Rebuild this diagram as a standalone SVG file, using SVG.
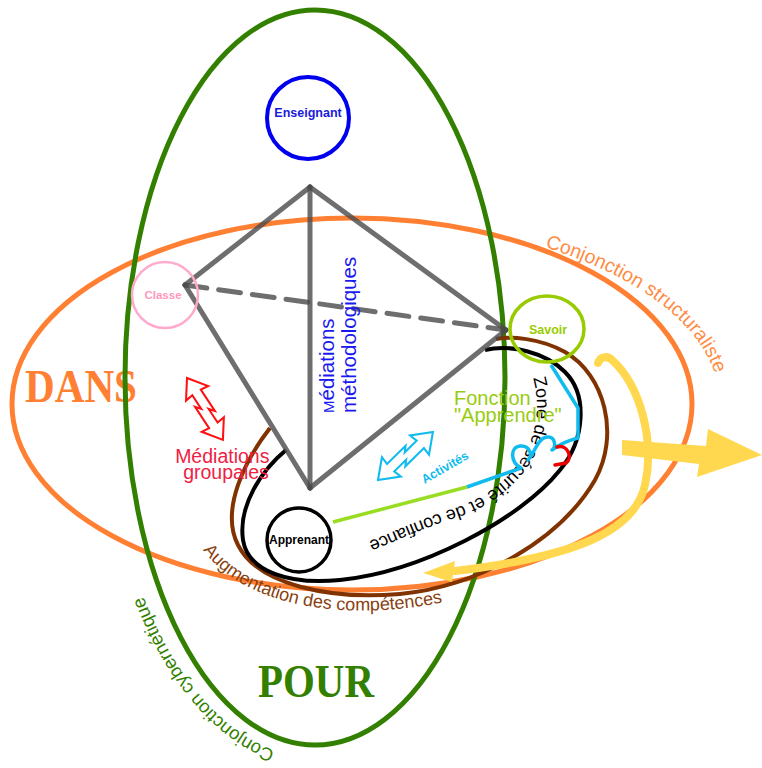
<svg xmlns="http://www.w3.org/2000/svg" width="762" height="768" viewBox="0 0 762 768">
  <defs>
    <style>
      .sans { font-family: "Liberation Sans", Arial, sans-serif; }
      .serif { font-family: "Liberation Serif", "Times New Roman", serif; font-weight: bold; }
      .edge { fill: none; stroke: #4a4a4a; stroke-opacity: 0.8; stroke-width: 5; stroke-linecap: round; }
      .node-label { font-family: "Liberation Sans", Arial, sans-serif; font-weight: bold; text-anchor: middle; }
      .bolt { fill: none; stroke-width: 2; stroke-linejoin: miter; }
    </style>
    <!-- double-headed zigzag arrow, tip to tip along +x -->
    <path id="bolt" d="M0,0 L18,-13 L17,-5 L42,-5 L37,-1 L53,-1 L52,-9 L70,4 L52,17 L53,9 L28,9 L33,5 L17,5 L18,13 Z"/>
    <!-- baselines for curved labels -->
    <path id="p-struct" d="M545,247.3 A368,184 0 0 1 720,404"/>
    <path id="p-cyber" d="M275,750.5 A210,380 0 0 1 105,377.5"/>
    <path id="p-augm" d="M203,550 C240,600 330,625 445,602"/>
    <path id="p-zone" d="M533,378 C550,440 510,490 455,508 S390,535 360,544"/>
  </defs>

  <rect width="762" height="768" fill="#ffffff"/>

  <!-- DANS: structuralist frame -->
  <g id="dans">
    <ellipse cx="352" cy="404" rx="340" ry="186" fill="none" stroke="#ff8033" stroke-width="5"/>
    <text class="serif" x="25" y="402" font-size="46" textLength="112" lengthAdjust="spacingAndGlyphs" fill="#ff8033">DANS</text>
    <text class="sans" font-size="19.5" fill="#ff8c44"><textPath href="#p-struct">Conjonction structuraliste</textPath></text>
  </g>

  <!-- POUR: cybernetic frame -->
  <g id="pour">
    <ellipse cx="315" cy="377.5" rx="190" ry="367.5" fill="none" stroke="#338000" stroke-width="5"/>
    <text class="serif" x="258" y="697" font-size="46" textLength="116" lengthAdjust="spacingAndGlyphs" fill="#338000">POUR</text>
    <text class="sans" font-size="18.5" fill="#338000"><textPath href="#p-cyber">Conjonction cybernétique</textPath></text>
  </g>

  <!-- skill growth loop -->
  <g id="competences">
    <path d="M270,428 C245,460 220,510 238,545 C258,585 330,600 400,594 C480,586 560,540 595,480 C620,435 605,375 565,352 C540,338 510,336 496,339" fill="none" stroke="#803300" stroke-width="4"/>
    <text class="sans" font-size="18" fill="#8a3f10"><textPath href="#p-augm">Augmentation des compétences</textPath></text>
  </g>

  <!-- safety zone -->
  <g id="zone">
    <path d="M286,450 C262,470 238,505 243,540 C248,572 290,585 340,580 C420,572 520,520 560,470 C585,440 588,395 565,372 C545,352 510,344 485,350" fill="none" stroke="#000000" stroke-width="4"/>
    <text class="sans" font-size="18" fill="#000000"><textPath href="#p-zone">Zone de sécurité et de confiance</textPath></text>
  </g>

  <!-- yellow flow arrows -->
  <g id="flux">
    <path d="M598,363 C600,357 607,355 612,360 C640,385 655,440 645,485 C635,530 580,556 455,571" fill="none" stroke="#ffd850" stroke-width="8" stroke-linecap="round"/>
    <polygon points="423,573 455,561 452,582" fill="#ffd850"/>
    <polygon points="622,440 706,446 708,429 762,455 697,477 699,464 622,455" fill="#ffd850"/>
  </g>

  <!-- connectors: tetrahedron edges and learning path -->
  <g id="connectors">
    <line class="edge" x1="310" y1="187" x2="185" y2="285"/>
    <line class="edge" x1="310" y1="187" x2="310" y2="488"/>
    <line class="edge" x1="310" y1="187" x2="506" y2="330"/>
    <line class="edge" x1="185" y1="285" x2="310" y2="488"/>
    <line class="edge" x1="310" y1="488" x2="506" y2="330"/>
    <line class="edge" x1="185" y1="285" x2="506" y2="330" stroke-dasharray="22 12" stroke-linecap="butt"/>
    <line x1="333" y1="522" x2="467" y2="487" stroke="#99dd22" stroke-width="3.5"/>
    <path d="M467,487 L521,468 C510,462 510,447 520,446 C530,445 533,456 528,460 C535,452 538,438 547,437 C556,436 556,448 552,450 C560,444 570,440 578,438 L578,408 L551,365" fill="none" stroke="#11bbee" stroke-width="3.5" stroke-linejoin="round"/>
    <path d="M557,447 C568,444 573,458 566,463 L555,465" fill="none" stroke="#ee0000" stroke-width="3.5" stroke-linecap="round"/>
  </g>

  <g id="mediations-methodologiques" class="sans" fill="#1a1aee" font-size="20.5">
    <text transform="translate(334,413) rotate(-90)"><tspan font-size="15">M</tspan>édiations</text>
    <text transform="translate(356,413) rotate(-90)">méthodologiques</text>
  </g>

  <g id="mediations-groupales">
    <use href="#bolt" class="bolt" stroke="#ff1010" transform="translate(187,378) rotate(56.6) scale(1.02)"/>
    <text class="sans" font-size="19.5" fill="#ee2244" text-anchor="middle">
      <tspan x="225" y="463">Médiations</tspan>
      <tspan x="226" y="479">groupales</tspan>
    </text>
  </g>

  <g id="activites">
    <use href="#bolt" class="bolt" stroke="#11bbee" transform="translate(378,480) rotate(-44.4) scale(1.04)"/>
    <text class="sans" font-weight="bold" font-size="12.5" fill="#11bbee" text-anchor="middle" transform="translate(447,471) rotate(-30)">Activités</text>
  </g>

  <g id="fonction-apprendre" class="sans" font-size="20" fill="#99cc11">
    <text x="454" y="405">Fonction</text>
    <text x="454" y="422">"Apprendre"</text>
  </g>

  <g id="enseignant">
    <circle cx="308" cy="118" r="41" fill="none" stroke="#0000ee" stroke-width="4"/>
    <text class="node-label" x="308" y="117" font-size="12.5" fill="#1a1add">Enseignant</text>
  </g>

  <g id="classe">
    <circle cx="165" cy="295" r="33" fill="none" stroke="#ffaacc" stroke-width="2.5"/>
    <text class="node-label" x="163" y="299" font-size="11.5" fill="#ff99bb">Classe</text>
  </g>

  <g id="savoir">
    <ellipse cx="547" cy="329" rx="37" ry="33" fill="none" stroke="#99cc00" stroke-width="3.5"/>
    <text class="node-label" x="548" y="334" font-size="12.5" fill="#99cc00">Savoir</text>
  </g>

  <g id="apprenant">
    <circle cx="299" cy="540" r="32" fill="none" stroke="#000000" stroke-width="3.5"/>
    <text class="node-label" x="299" y="544" font-size="12" fill="#000000">Apprenant</text>
  </g>
</svg>
